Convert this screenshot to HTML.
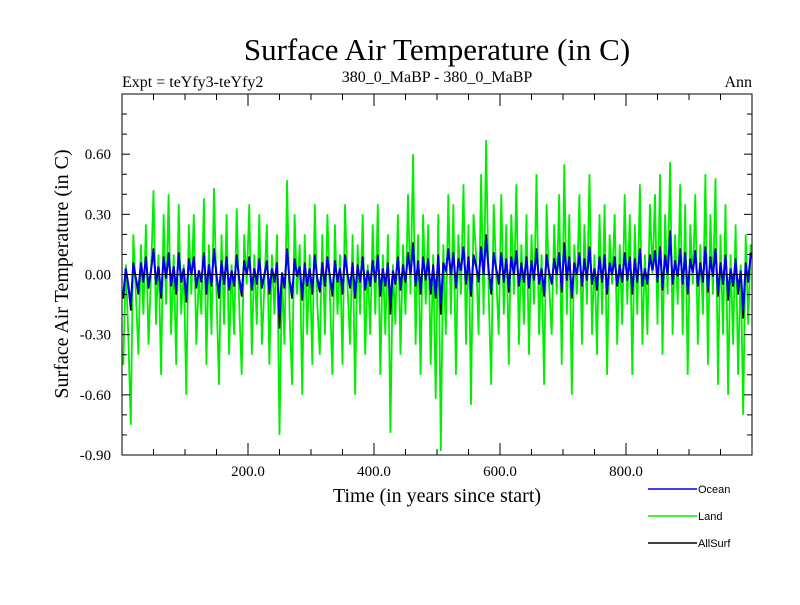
<!DOCTYPE html>
<html><head><meta charset="utf-8"><style>
body{margin:0;background:#fff}
svg text{font-family:"Liberation Serif",serif;fill:#000}
</style></head><body>
<svg id="chart" width="800" height="600" xmlns="http://www.w3.org/2000/svg">
<rect width="800" height="600" fill="#fff"/>
<text x="437" y="60" font-size="31" text-anchor="middle">Surface Air Temperature (in C)</text>
<text x="122" y="87" font-size="16">Expt = teYfy3-teYfy2</text>
<text x="437" y="82" font-size="16" text-anchor="middle">380_0_MaBP - 380_0_MaBP</text>
<text x="752" y="87" font-size="16" text-anchor="end">Ann</text>
<text transform="translate(68,274) rotate(-90)" font-size="20" text-anchor="middle">Surface Air Temperature (in C)</text>
<text x="437" y="502" font-size="20" text-anchor="middle">Time (in years since start)</text>
<g id="series"></g>
<g id="axes"></g>
<g id="legend"></g>
</svg>
<script>
const yTicks=[0.6,0.3,0,-0.3,-0.6,-0.9];
const yTickLabels=["0.60","0.30","0.00","-0.30","-0.60","-0.90"];
const xTicks=[200,400,600,800];
const xTickLabels=["200.0","400.0","600.0","800.0"];
const landStep=4, oceanStep=4, allStep=4;
const land=[-0.45,0.05,-0.3,-0.75,0.2,-0.1,-0.4,0.15,-0.2,0.25,
-0.35,0.0,0.42,-0.25,0.1,-0.5,0.3,-0.15,0.4,-0.3,
0.1,-0.45,0.35,-0.2,0.05,-0.6,0.25,-0.1,0.3,-0.35,
0.0,-0.2,0.38,-0.45,0.15,-0.3,0.43,-0.1,-0.55,0.2,
-0.25,0.3,-0.4,0.05,-0.3,0.33,-0.15,-0.5,0.2,-0.05,
0.35,-0.4,0.1,-0.25,0.3,-0.35,-0.05,0.25,-0.45,0.1,
-0.2,0.2,-0.8,0.0,-0.35,0.47,-0.2,-0.55,0.3,-0.1,
0.15,-0.6,0.2,-0.3,0.1,-0.45,0.35,-0.15,-0.4,0.2,
-0.3,0.3,-0.1,-0.5,0.25,-0.2,0.1,-0.45,0.35,-0.05,
-0.35,0.2,-0.6,0.15,-0.2,0.3,-0.4,0.05,-0.3,0.25,
-0.2,0.35,-0.5,0.1,-0.3,0.2,-0.79,0.05,-0.25,0.3,
-0.4,0.15,-0.2,0.4,-0.1,0.6,-0.35,0.2,-0.5,0.3,
-0.15,0.25,-0.45,0.1,-0.62,0.3,-0.88,0.15,-0.3,0.4,
-0.2,0.35,-0.5,0.2,-0.1,0.45,-0.35,0.25,-0.65,0.3,
0.1,-0.3,0.5,-0.2,0.67,-0.1,-0.55,0.35,0.0,-0.3,
0.4,-0.2,0.25,-0.45,0.3,-0.1,0.45,-0.35,0.15,-0.25,
0.3,-0.4,0.2,-0.15,0.5,-0.3,0.1,-0.55,0.35,-0.05,
-0.3,0.25,-0.1,0.4,-0.45,0.55,-0.2,0.3,-0.6,0.15,
-0.1,0.4,-0.35,0.25,-0.15,0.5,-0.3,0.1,-0.4,0.3,
-0.2,0.35,-0.5,0.2,-0.05,0.3,-0.35,0.15,-0.25,0.4,
-0.15,0.3,-0.5,0.25,-0.2,0.45,-0.35,0.1,-0.3,0.35,
0.0,0.4,-0.25,0.5,-0.4,0.3,-0.1,0.56,-0.3,0.2,
-0.15,0.45,-0.3,0.35,-0.5,0.25,-0.05,0.4,-0.35,0.15,
-0.2,0.5,-0.45,0.3,-0.1,0.48,-0.55,0.2,-0.3,0.35,
-0.6,0.1,-0.35,0.25,-0.5,0.05,-0.7,0.2,-0.25,0.15];
const ocean=[-0.1,0.03,-0.05,-0.15,0.05,-0.02,-0.08,0.06,-0.03,0.08,
-0.06,0.02,0.12,-0.04,0.04,-0.1,0.08,-0.02,0.1,-0.05,
0.04,-0.08,0.1,-0.03,0.03,-0.12,0.07,0.0,0.08,-0.06,
0.02,-0.03,0.1,-0.08,0.05,-0.05,0.12,0.0,-0.1,0.06,
-0.04,0.08,-0.07,0.02,-0.05,0.09,-0.02,-0.09,0.06,0.0,
0.08,-0.07,0.03,-0.04,0.07,-0.06,0.0,0.06,-0.08,0.03,
-0.03,0.05,-0.2,0.01,-0.06,0.12,-0.03,-0.1,0.07,-0.01,
0.04,-0.11,0.05,-0.05,0.03,-0.08,0.09,-0.02,-0.07,0.05,
-0.05,0.08,-0.01,-0.09,0.06,-0.03,0.03,-0.08,0.09,0.0,
-0.06,0.05,-0.1,0.04,-0.03,0.08,-0.07,0.02,-0.05,0.06,
-0.03,0.09,-0.09,0.03,-0.05,0.05,-0.14,0.02,-0.04,0.08,
-0.07,0.04,-0.03,0.1,0.0,0.14,-0.05,0.06,-0.08,0.08,
-0.02,0.07,-0.08,0.04,-0.1,0.09,-0.15,0.05,0.02,0.12,
0.0,0.1,-0.06,0.07,0.02,0.13,-0.04,0.08,-0.09,0.09,
0.04,-0.03,0.13,0.0,0.18,0.02,-0.08,0.1,0.03,-0.04,
0.1,-0.03,0.07,-0.07,0.08,0.0,0.11,-0.05,0.05,-0.03,
0.08,-0.06,0.06,-0.02,0.12,-0.04,0.03,-0.09,0.09,0.01,
-0.04,0.07,0.0,0.1,-0.07,0.14,-0.02,0.08,-0.1,0.05,
0.0,0.1,-0.05,0.07,-0.02,0.13,-0.04,0.03,-0.06,0.08,
-0.03,0.09,-0.08,0.05,0.0,0.08,-0.05,0.04,-0.03,0.1,
-0.02,0.08,-0.08,0.07,-0.03,0.12,-0.05,0.03,-0.04,0.09,
0.02,0.11,-0.03,0.13,-0.06,0.09,0.0,0.2,-0.04,0.06,
-0.01,0.12,-0.04,0.1,-0.08,0.07,0.01,0.11,-0.05,0.05,
-0.03,0.13,-0.07,0.08,-0.01,0.12,-0.09,0.05,-0.04,0.09,
-0.1,0.03,-0.05,0.07,-0.08,0.02,-0.18,0.05,-0.03,0.1];
const allSurf=[-0.12,0.03,-0.06,-0.18,0.06,-0.02,-0.1,0.06,-0.04,0.09,
-0.07,0.02,0.13,-0.05,0.04,-0.12,0.09,-0.02,0.11,-0.06,
0.04,-0.1,0.11,-0.04,0.03,-0.14,0.08,0.0,0.09,-0.07,
0.02,-0.04,0.11,-0.1,0.05,-0.06,0.13,0.0,-0.12,0.07,
-0.05,0.09,-0.08,0.02,-0.06,0.1,-0.03,-0.11,0.07,0.0,
0.09,-0.08,0.03,-0.05,0.08,-0.07,0.0,0.07,-0.1,0.03,
-0.04,0.06,-0.27,0.01,-0.07,0.13,-0.04,-0.12,0.08,-0.01,
0.04,-0.13,0.06,-0.06,0.03,-0.1,0.1,-0.03,-0.09,0.06,
-0.06,0.09,-0.01,-0.11,0.07,-0.04,0.03,-0.1,0.1,0.0,
-0.07,0.06,-0.12,0.05,-0.04,0.09,-0.08,0.02,-0.06,0.07,
-0.04,0.1,-0.11,0.03,-0.06,0.06,-0.2,0.02,-0.05,0.09,
-0.08,0.05,-0.04,0.11,0.0,0.16,-0.06,0.07,-0.1,0.09,
-0.03,0.08,-0.1,0.05,-0.12,0.1,-0.2,0.06,0.02,0.13,
0.0,0.11,-0.07,0.08,0.02,0.14,-0.05,0.09,-0.11,0.1,
0.05,-0.04,0.14,0.0,0.2,0.02,-0.1,0.11,0.03,-0.05,
0.11,-0.04,0.08,-0.09,0.09,0.0,0.12,-0.06,0.06,-0.04,
0.09,-0.07,0.07,-0.03,0.13,-0.05,0.03,-0.11,0.1,0.01,
-0.05,0.08,0.0,0.11,-0.09,0.16,-0.03,0.09,-0.12,0.06,
0.0,0.11,-0.06,0.08,-0.03,0.14,-0.05,0.03,-0.08,0.09,
-0.04,0.1,-0.1,0.06,0.0,0.09,-0.06,0.05,-0.04,0.11,
-0.03,0.09,-0.1,0.08,-0.04,0.13,-0.06,0.03,-0.05,0.1,
0.02,0.12,-0.04,0.14,-0.08,0.1,0.0,0.22,-0.05,0.07,
-0.01,0.13,-0.05,0.11,-0.1,0.08,0.01,0.12,-0.06,0.06,
-0.04,0.14,-0.09,0.09,-0.01,0.13,-0.11,0.06,-0.05,0.1,
-0.13,0.03,-0.06,0.08,-0.1,0.02,-0.22,0.06,-0.04,0.11];

const X0=122,X1=752,Y0=94,Y1=455;
const xMin=0,xMax=1000,yMin=-0.9,yMax=0.9;
function sx(v){return X0+(v-xMin)/(xMax-xMin)*(X1-X0);}
function sy(v){return Y1-(v-yMin)/(yMax-yMin)*(Y1-Y0);}
const NS="http://www.w3.org/2000/svg";
function mk(tag,attrs,parent){const e=document.createElementNS(NS,tag);for(const k in attrs)e.setAttribute(k,attrs[k]);parent.appendChild(e);return e;}
const sg=document.getElementById('series');
function drawSeries(vals,step,color,name,w){
  const pts=vals.map((v,i)=>sx(i*step+step/2).toFixed(1)+','+sy(v).toFixed(1)).join(' ');
  const p=mk('polyline',{points:pts,fill:'none',stroke:color,'stroke-width':w},sg);
  
  
}
drawSeries(land,landStep,'#00ee00','land-line',1.8);
drawSeries(allSurf,allStep,'#000','allsurf-line',1.6);
drawSeries(ocean,oceanStep,'#0000ee','ocean-line',2);

const ax=document.getElementById('axes');
const zl=mk('line',{x1:X0,x2:X1,y1:sy(0),y2:sy(0),stroke:'#000','stroke-width':1},ax);


const fr=mk('rect',{x:X0,y:Y0,width:X1-X0,height:Y1-Y0,fill:'none',stroke:'#000','stroke-width':1},ax);


for(let v=-0.8;v<0.9;v+=0.1){const y=sy(v);const major=yTicks.some(t=>Math.abs(t-v)<1e-6);const L=major?8:5;
  mk('line',{x1:X0,x2:X0+L,y1:y,y2:y,stroke:'#000'},ax);mk('line',{x1:X1,x2:X1-L,y1:y,y2:y,stroke:'#000'},ax);}
for(let v=50;v<1000;v+=50){const x=sx(v);const major=xTicks.includes(v);const L=major?12:6;
  mk('line',{x1:x,x2:x,y1:Y1,y2:Y1-L,stroke:'#000'},ax);mk('line',{x1:x,x2:x,y1:Y0,y2:Y0+L,stroke:'#000'},ax);}
yTicks.forEach((t,i)=>{const e=mk('text',{x:X0-11,y:sy(t)+5,'font-size':15,'text-anchor':'end'},ax);e.textContent=yTickLabels[i];
  
  });
xTicks.forEach((t,i)=>{const e=mk('text',{x:sx(t),y:476,'font-size':15,'text-anchor':'middle'},ax);e.textContent=xTickLabels[i];
  
  });

const lg=document.getElementById('legend');
const legNames=['Ocean','Land','AllSurf'];
const legColors=['#0000ee','#00ee00','#000'];
legNames.forEach((n,i)=>{const y=489+i*27;
  const g=mk('g',{},lg);
  
  
  mk('line',{x1:648,x2:697,y1:y,y2:y,stroke:legColors[i],'stroke-width':1.6},g);
  const t=mk('text',{x:698,y:y+4,'font-size':11},g);t.setAttribute('style','font-family:"Liberation Sans",sans-serif');t.textContent=n;});
</script>
</body></html>
